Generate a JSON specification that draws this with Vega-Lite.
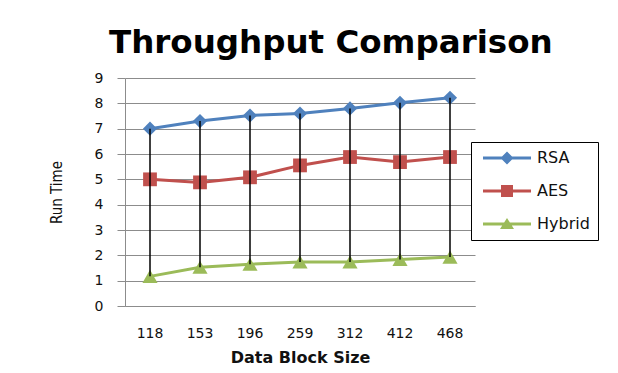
{
  "$schema": "https://vega.github.io/schema/vega-lite/v6.json",
  "width": 350,
  "height": 228,
  "autosize": {"type": "none"},
  "padding": {"left": 125, "top": 78, "right": 143, "bottom": 67},
  "background": "white",
  "title": {
    "text": "Throughput Comparison",
    "font": "DejaVu Sans",
    "fontSize": 32.5,
    "fontWeight": "bold",
    "color": "black",
    "frame": "bounds",
    "anchor": "middle",
    "offset": 12,
    "dx": 7
  },
  "data": {
    "values": [
      {"block": "118", "series": "RSA", "value": 7.0},
      {"block": "153", "series": "RSA", "value": 7.3},
      {"block": "196", "series": "RSA", "value": 7.52},
      {"block": "259", "series": "RSA", "value": 7.6},
      {"block": "312", "series": "RSA", "value": 7.8},
      {"block": "412", "series": "RSA", "value": 8.02},
      {"block": "468", "series": "RSA", "value": 8.22},
      {"block": "118", "series": "AES", "value": 5.0},
      {"block": "153", "series": "AES", "value": 4.88},
      {"block": "196", "series": "AES", "value": 5.08},
      {"block": "259", "series": "AES", "value": 5.55},
      {"block": "312", "series": "AES", "value": 5.88},
      {"block": "412", "series": "AES", "value": 5.68},
      {"block": "468", "series": "AES", "value": 5.88},
      {"block": "118", "series": "Hybrid", "value": 1.17},
      {"block": "153", "series": "Hybrid", "value": 1.53},
      {"block": "196", "series": "Hybrid", "value": 1.65},
      {"block": "259", "series": "Hybrid", "value": 1.74},
      {"block": "312", "series": "Hybrid", "value": 1.74},
      {"block": "412", "series": "Hybrid", "value": 1.84},
      {"block": "468", "series": "Hybrid", "value": 1.93}
    ]
  },
  "encoding": {
    "x": {
      "field": "block",
      "type": "ordinal",
      "sort": ["118", "153", "196", "259", "312", "412", "468"],
      "title": "Data Block  Size",
      "axis": {
        "labelAngle": 0,
        "ticks": false,
        "grid": false,
        "domainColor": "#8c8c8c",
        "labelFont": "DejaVu Sans",
        "labelFontSize": 14,
        "labelColor": "#111111",
        "labelPadding": 20,
        "titleFont": "DejaVu Sans",
        "titleFontWeight": "bold",
        "titleFontSize": 16,
        "titleColor": "#111111",
        "titlePadding": 9
      }
    },
    "y": {
      "field": "value",
      "type": "quantitative",
      "scale": {"domain": [0, 9]},
      "title": "Run Time",
      "axis": {
        "values": [0, 1, 2, 3, 4, 5, 6, 7, 8, 9],
        "grid": true,
        "gridColor": "#8c8c8c",
        "domainColor": "#8c8c8c",
        "tickColor": "#8c8c8c",
        "tickSize": 8,
        "labelFont": "DejaVu Sans",
        "labelFontSize": 14,
        "labelColor": "#111111",
        "labelPadding": 14,
        "titleFont": "DejaVu Sans Condensed, Liberation Sans",
        "titleFontSize": 15,
        "titleFontWeight": "normal",
        "titleColor": "#111111",
        "titlePadding": 30
      }
    }
  },
  "layer": [
    {
      "mark": {"type": "line", "strokeWidth": 3},
      "encoding": {
        "color": {
          "field": "series",
          "type": "nominal",
          "scale": {"domain": ["RSA", "AES", "Hybrid"], "range": ["#4f81bd", "#c0504d", "#9bbb59"]},
          "legend": {
            "title": null,
            "orient": "none",
            "legendX": 346,
            "legendY": 64,
            "strokeColor": "black",
            "fillColor": "white",
            "padding": 8,
            "symbolSize": 100,
            "symbolOffset": 20,
            "labelOffset": 22,
            "rowPadding": 17,
            "labelFont": "DejaVu Sans",
            "labelFontSize": 16,
            "labelColor": "#111111",
            "encode": {
              "symbols": {
                "update": {
                  "shape": {"signal": "datum.value === 'RSA' ? 'M-4.8,-0.28L4.8,-0.28L4.8,0.28L-4.8,0.28ZM-1.3,0L0,-1.3L1.3,0L0,1.3Z' : datum.value === 'AES' ? 'M-4.8,-0.28L4.8,-0.28L4.8,0.28L-4.8,0.28ZM-1.2,-1.2L1.2,-1.2L1.2,1.2L-1.2,1.2Z' : 'M-4.8,-0.28L4.8,-0.28L4.8,0.28L-4.8,0.28ZM-1.4,1L0,-1.2L1.4,1Z'"},
                  "size": {"value": 100},
                  "fill": {"scale": "color", "field": "value"},
                  "stroke": {"value": "transparent"},
                  "strokeWidth": {"value": 0},
                  "opacity": {"value": 1},
                  "fillOpacity": {"value": 1}
                }
              }
            }
          }
        }
      }
    },
    {
      "transform": [{"filter": "datum.series === 'RSA'"}],
      "mark": {"type": "point", "shape": "diamond", "size": 200, "filled": true, "opacity": 1},
      "encoding": {"color": {"field": "series", "type": "nominal", "legend": null}}
    },
    {
      "transform": [{"filter": "datum.series === 'AES'"}],
      "mark": {"type": "point", "shape": "square", "size": 190, "filled": true, "opacity": 1},
      "encoding": {"color": {"field": "series", "type": "nominal", "legend": null}}
    },
    {
      "transform": [{"filter": "datum.series === 'Hybrid'"}],
      "mark": {"type": "point", "shape": "triangle-up", "size": 230, "filled": true, "opacity": 1},
      "encoding": {"color": {"field": "series", "type": "nominal", "legend": null}}
    },
    {
      "transform": [
        {
          "aggregate": [
            {"op": "max", "field": "value", "as": "value"},
            {"op": "min", "field": "value", "as": "low"}
          ],
          "groupby": ["block"]
        }
      ],
      "mark": {"type": "rule", "color": "black", "strokeWidth": 1.5},
      "encoding": {
        "y2": {"field": "low"}
      }
    }
  ],
  "config": {"view": {"stroke": null}}
}
